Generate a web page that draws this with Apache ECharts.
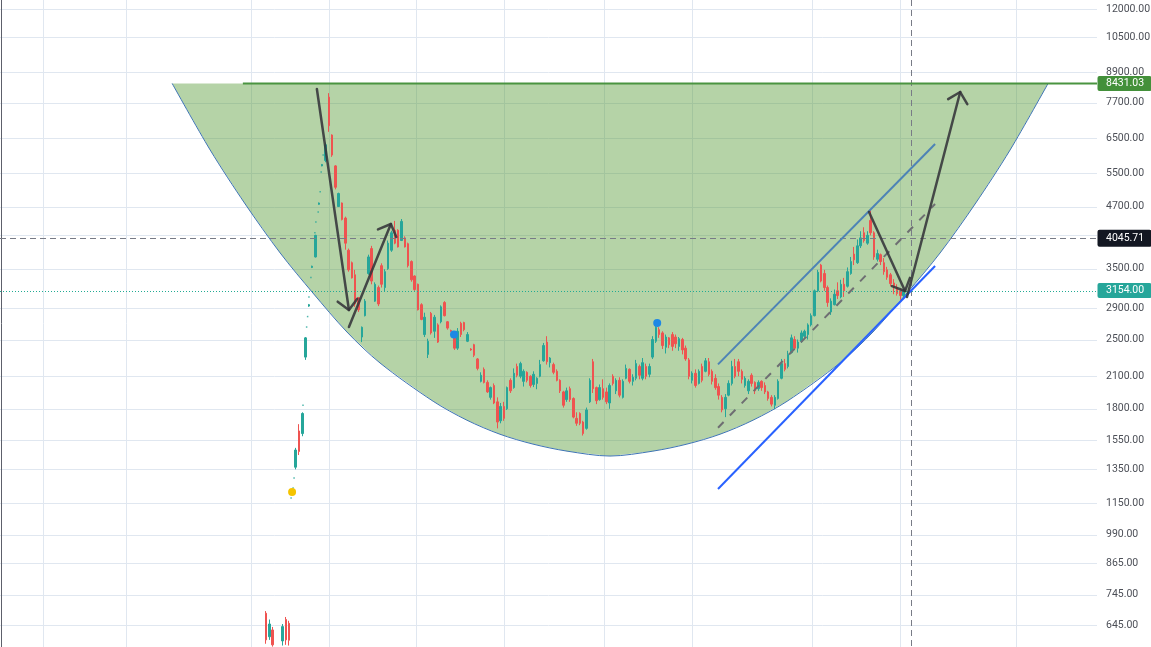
<!DOCTYPE html>
<html>
<head>
<meta charset="utf-8">
<script src="https://cdn.jsdelivr.net/npm/echarts@6/dist/echarts.min.js"></script>
<style>html,body{margin:0;padding:0;background:#fff}#c{width:1151px;height:647px}</style>
</head>
<body>
<div id="c"></div>
<script>
// ---------- data ----------
const firstBar = 80; // bar index of the first candle
// [open, close, low, high] ; null = no trade
const candles = [
[682,601,590,689],[610,648,601,662],[630,587,582,639],null,null,[598,640,585,648],[662,601,587,670],[650,600,585,658],
[1205,1212,1198,1216],[1364,1480,1350,1495],[1620,1470,1445,1673],[1600,1760,1580,1770],[2300,2520,2270,2530],
[2930,2950,2920,2960],[3520,3540,3510,3550],[3700,4100,3690,4110],[4750,4780,4740,4790],[5700,5740,5690,5750],
[5850,6300,5800,6360],[7900,6900,6700,8050],[6600,6000,5950,6620],[5700,5150,5100,5720],[4700,5000,4690,5020],
[4780,4420,4400,4790],[4450,3950,3830,4480],[3820,3480,3450,3850],[3600,3350,3340,3620],[3400,2960,2920,3480],
[3050,2880,2850,3060],[2530,2650,2470,2660],[2800,3000,2790,3030],[3420,3700,3400,3740],[3850,3300,3250,3900],
[3000,3250,2990,3280],[3200,2960,2930,3230],[3550,3250,3200,3590],[3200,3450,3140,3490],[3500,3950,3480,4000],
[3820,4150,3790,4190],[4200,3950,3930,4390],[4200,3880,3870,4220],[4000,4380,3990,4430],[4050,3880,3870,4080],
[3940,3550,3520,3960],[3620,3320,3290,3640],[3380,3170,3150,3390],[3250,2880,2870,3260],[2950,2750,2740,2970],
[2560,2780,2530,2840],[2330,2480,2290,2510],[2830,2580,2560,2850],[2600,2780,2520,2810],[2680,2470,2460,2700],
[2720,2920,2700,2940],[2980,2800,2790,3000],[2720,2640,2620,2730],[2610,2600,2590,2620],[2560,2400,2380,2570],
[2400,2600,2380,2640],[2700,2560,2530,2720],[2710,2620,2600,2720],[2480,2560,2470,2590],[2390,2380,2370,2400],
[2440,2320,2300,2450],[2280,2180,2160,2290],[2050,2110,2040,2140],[2170,2040,2030,2190],[2040,1950,1940,2060],
[1900,1990,1880,2000],[2010,1850,1840,2030],[1860,1690,1640,1900],[1700,1820,1680,1850],[1820,1720,1700,1860],
[1800,1990,1790,2000],[2060,1960,1940,2080],[1990,2130,1980,2180],[2200,2110,2090,2230],[2100,2230,2080,2250],
[2050,2150,2000,2170],[2140,2060,2040,2150],[2100,2010,1990,2110],[2020,2120,1995,2150],[2030,2080,1975,2090],
[2100,2220,2090,2270],[2260,2430,2250,2460],[2470,2250,2220,2540],[2240,2290,2190,2300],[2220,2140,2120,2240],
[2150,2060,2050,2170],[2060,1960,1940,2070],[1950,1830,1810,1960],[1880,1960,1860,1990],[1980,1880,1860,2000],
[1890,1730,1720,1900],[1720,1680,1660,1770],[1760,1680,1665,1770],[1690,1600,1585,1700],[1640,1790,1630,1810],
[1860,2060,1850,2080],[2250,1980,1940,2280],[1990,1870,1840,2000],[1880,1990,1870,2020],[1980,1900,1880,2070],
[1950,1860,1840,1990],[1850,2010,1800,2030],[2100,2030,2010,2120],[1960,2060,1930,2080],[2060,1920,1900,2090],
[1900,2050,1890,2070],[2080,2180,2070,2220],[2170,2050,2030,2180],[2050,2090,2010,2120],[2080,2230,2060,2270],
[2200,2110,2070,2220],[2080,2240,2060,2290],[2200,2100,2070,2230],[2120,2200,2090,2230],[2300,2500,2280,2540],
[2480,2650,2460,2680],[2620,2560,2520,2650],[2580,2430,2390,2600],[2410,2530,2340,2560],[2520,2440,2400,2530],
[2560,2420,2370,2590],[2530,2450,2400,2560],[2420,2510,2370,2530],[2500,2380,2330,2520],[2400,2280,2260,2430],
[2270,2100,2070,2290],[2060,2130,2030,2150],[2130,2010,1990,2170],[2030,2150,2020,2170],[2200,2060,2040,2230],
[2150,2260,2140,2290],[2250,2120,2100,2290],[2150,2050,2020,2170],[2080,1990,1970,2120],[2000,1920,1880,2030],
[1900,1790,1770,1920],[1800,1900,1730,1930],[1920,2030,1910,2060],[2030,2200,2010,2260],[2200,2100,2080,2280],
[2250,2150,2100,2280],[2150,2070,2030,2170],[2010,2080,1990,2100],[1960,2050,1930,2070],[2110,2030,2000,2130],
[2040,1960,1930,2050],[1980,2040,1960,2060],[2050,1990,1960,2060],[2010,1950,1930,2040],[1950,1890,1870,1960],
[1900,1840,1820,1920],[1830,1900,1796,1920],[1890,2050,1880,2070],[2080,2230,2070,2280],[2230,2170,2150,2280],
[2200,2330,2180,2370],[2350,2520,2340,2560],[2500,2400,2380,2540],[2400,2470,2350,2500],[2480,2580,2460,2610],
[2540,2600,2520,2620],[2560,2680,2500,2700],[2680,2800,2660,2830],[2800,3150,2790,3170],[3150,3440,3130,3480],
[3560,3300,3280,3580],[3420,3200,3150,3480],[3200,2980,2920,3230],[2850,3000,2810,3040],[2950,3100,2940,3170],
[3150,3080,3030,3280],[3060,3250,3040,3320],[3250,3150,3060,3350],[3220,3450,3200,3520],[3420,3620,3400,3700],
[3750,3650,3560,3880],[3600,3900,3580,4020],[3900,4050,3860,4180],[4150,4000,3960,4260],[3950,4100,3920,4180],
[4400,4150,4100,4630],[4150,3700,3650,4180],[3660,3760,3620,3830],[3740,3620,3560,3760],[3600,3450,3400,3680],
[3480,3360,3320,3530],[3400,3260,3220,3430],[3270,3200,3100,3330],[3200,3110,3080,3250],[3150,3080,3020,3180],
[3080,3154,3060,3170]
];
// single-price trades in the thin early period: [bar, price]
const thinTrades = [[87.6,1178],[88.2,1236],[88.5,1296],[91.2,1830],[92.3,2653],[92.6,2788],[93.0,3059],[93.6,3355],
[94.8,4150],[95.1,4370],[95.8,4580],[96.4,5040],[96.7,5540],[97.3,6004]];

const priceTicks = [12000,10500,8900,7700,6500,5500,4700,4100,3500,2900,2500,2100,1800,1550,1350,1150,990,865,745,645];
const hiddenTicks = [4100];
const timeGridBars = [12.5,37.6,75.5,99.2,125.4,152.0,182.3,208.9,245.3,271.9,307.0];

// cup (rounded bottom) drawing
const cupBars   = [51.6,63.1,73.7,84.3,94.2,104.5,114.5,130.6,140.8,150.8,160.8,171.1,184.1,197.1,207.4,217.4,227.4,237.7,253.7,263.7,274.0,284.0,294.6,305.2,316.7];
const cupPrices = [8431,6148,4757,3770,3118,2591,2237,1865,1705,1595,1522,1472,1438,1472,1522,1595,1705,1865,2237,2591,3118,3770,4757,6148,8431];

const resistancePrice = 8431.03, resistanceFrom = 73.0;
const crossPrice = 4045.71, crossBar = 275.2;
const lastPrice = 3154.00;
// arrows: [fromBar, fromPrice, toBar, toPrice]
const arrows = [[95.4,8210,105.1,2876],[105.1,2653,117.8,4326],[262.5,4580,273.4,3148],[274.0,3059,290.1,8094]];
const channelUpper = [[216.8,2222],[282.5,6324]];
const channelMid   = [[216.8,1645],[282.5,4757]];
const supportLine  = [[216.8,1230],[282.5,3544]];
const eventDots = [[87.9,1213,'#f5c400'],[136.9,2561,'#1e88e5'],[198.4,2705,'#1e88e5']];

// ---------- chart ----------
const chart = echarts.init(document.getElementById('c'), null, {renderer:'canvas'});
const candleData = [];
candles.forEach((c,i)=>{ if (c) candleData.push([firstBar+i, c[0], c[1], c[2], c[3]]); });

const GRID = '#e0e7f0';
const FONT = '10.5px Roboto, "Open Sans", sans-serif';

function drawGrid(params, api){
  if (params.dataIndex !== 0) return;
  const cs = params.coordSys, ch = [];
  priceTicks.forEach(p=>{
    const y = Math.round(api.coord([0,p])[1]) + 0.5;
    ch.push({type:'line', shape:{x1:cs.x, y1:y, x2:cs.x+cs.width, y2:y}, style:{stroke:GRID, lineWidth:1}});
  });
  timeGridBars.forEach(b=>{
    const x = Math.round(api.coord([b,1000])[0]) + 0.5;
    ch.push({type:'line', shape:{x1:x, y1:cs.y, x2:x, y2:cs.y+cs.height}, style:{stroke:GRID, lineWidth:1}});
  });
  return {type:'group', children:ch};
}

function drawCupFill(params, api){
  if (params.dataIndex !== 0) return;
  const pts = cupBars.map((b,i)=>api.coord([b, cupPrices[i]]));
  return {type:'polygon', shape:{points:pts}, style:{fill:'rgba(76,148,42,0.41)', stroke:null}};
}

function arrowEl(api, a){
  const p1 = api.coord([a[0],a[1]]), p2 = api.coord([a[2],a[3]]);
  const ang = Math.atan2(p1[1]-p2[1], p1[0]-p2[0]);
  const L = 14, s = Math.PI/4;
  const h1 = [p2[0]+L*Math.cos(ang+s), p2[1]+L*Math.sin(ang+s)];
  const h2 = [p2[0]+L*Math.cos(ang-s), p2[1]+L*Math.sin(ang-s)];
  const st = {stroke:'rgba(52,52,58,0.88)', lineWidth:2.5, lineCap:'round', lineJoin:'round', fill:null};
  return [
    {type:'line', shape:{x1:p1[0],y1:p1[1],x2:p2[0],y2:p2[1]}, style:st},
    {type:'polyline', shape:{points:[h1,p2,h2]}, style:st}
  ];
}

function seg(api, pts, style){
  const a = api.coord(pts[0]), b = api.coord(pts[1]);
  return {type:'line', shape:{x1:a[0],y1:a[1],x2:b[0],y2:b[1]}, style:style};
}

function drawAnnotations(params, api){
  if (params.dataIndex !== 0) return;
  const cs = params.coordSys, ch = [];
  const yc = Math.round(api.coord([0,crossPrice])[1]) + 0.5;
  ch.push({type:'line', shape:{x1:cs.x,y1:yc,x2:cs.x+cs.width,y2:yc}, style:{stroke:'#787b86', lineWidth:1, lineDash:[6,4]}});
  const xc = Math.round(api.coord([crossBar,1000])[0]) + 0.5;
  ch.push({type:'line', shape:{x1:xc,y1:cs.y,x2:xc,y2:cs.y+cs.height}, style:{stroke:'#787b86', lineWidth:1, lineDash:[6,4]}});
  const yl = Math.round(api.coord([0,lastPrice])[1]) + 0.5;
  ch.push({type:'line', shape:{x1:cs.x,y1:yl,x2:cs.x+cs.width,y2:yl}, style:{stroke:'#22ab94', lineWidth:1, lineDash:[1,2]}});
  const r = api.coord([resistanceFrom, resistancePrice]);
  ch.push({type:'line', shape:{x1:r[0],y1:r[1],x2:cs.x+cs.width,y2:r[1]}, style:{stroke:'#4a9440', lineWidth:2}});
  ch.push(seg(api, channelUpper, {stroke:'#4d83b6', lineWidth:2}));
  ch.push(seg(api, channelMid, {stroke:'#6e6e72', lineWidth:2, lineDash:[8,9]}));
  ch.push(seg(api, supportLine, {stroke:'#2962ff', lineWidth:2}));
  arrows.forEach(a=>arrowEl(api,a).forEach(e=>ch.push(e)));
  eventDots.forEach(d=>{
    const p = api.coord([d[0],d[1]]);
    ch.push({type:'circle', shape:{cx:p[0],cy:p[1],r:4}, style:{fill:d[2]}});
  });
  return {type:'group', children:ch};
}

function drawLabels(params, api){
  if (params.dataIndex !== 0) return;
  const cs = params.coordSys, ch = [];
  const xr = cs.x + cs.width;
  priceTicks.forEach(p=>{
    if (hiddenTicks.indexOf(p) >= 0) return;
    const y = api.coord([0,p])[1];
    ch.push({type:'text', x:xr+9, y:y, style:{text:p.toFixed(2), fill:'#4c4f57', font:FONT, align:'left', verticalAlign:'middle'}});
  });
  [[resistancePrice,'#43903a',15],[crossPrice,'#131722',17],[lastPrice,'#26a69a',15]].forEach(t=>{
    const y = api.coord([0,t[0]])[1];
    ch.push({type:'rect', shape:{x:xr+0.5, y:y-t[2]/2, width:54, height:t[2], r:2}, style:{fill:t[1]}});
    ch.push({type:'text', x:xr+9, y:y, style:{text:t[0].toFixed(2), fill:'#ffffff', font:FONT, align:'left', verticalAlign:'middle'}});
  });
  return {type:'group', children:ch};
}

const one = [[0,1000]];
chart.setOption({
  animation:false,
  backgroundColor:'#ffffff',
  grid:{left:0, right:54, top:0, bottom:0},
  xAxis:{type:'value', min:-0.5, max:331.5, show:false},
  yAxis:{type:'log', min:581, max:12527, position:'right',
    axisLine:{show:true, lineStyle:{color:'#5d606b', width:1}},
    axisTick:{show:false}, axisLabel:{show:false}, splitLine:{show:false}},
  series:[
    {type:'custom', z:0, silent:true, data:one, encode:{x:0,y:1}, renderItem:drawGrid},
    {type:'custom', z:1, silent:true, data:one, encode:{x:0,y:1}, renderItem:drawCupFill},
    {type:'line', z:2, silent:true, data:cupBars.map((b,i)=>[b,cupPrices[i]]), smooth:0.3, showSymbol:false,
      lineStyle:{color:'#3e74b5', width:1}},
    {type:'scatter', z:3, silent:true, data:thinTrades, symbol:'rect', symbolSize:[1.5,1.5],
      itemStyle:{color:'#26a69a'}},
    {type:'candlestick', z:3, data:candleData, barWidth:2,
      itemStyle:{color:'#26a69a', color0:'#ef5350', borderColor:'#26a69a', borderColor0:'#ef5350', borderWidth:1}},
    {type:'custom', z:4, silent:true, data:one, encode:{x:0,y:1}, renderItem:drawAnnotations},
    {type:'custom', z:6, silent:true, data:one, encode:{x:0,y:1}, renderItem:drawLabels}
  ]
});
</script>
</body>
</html>
